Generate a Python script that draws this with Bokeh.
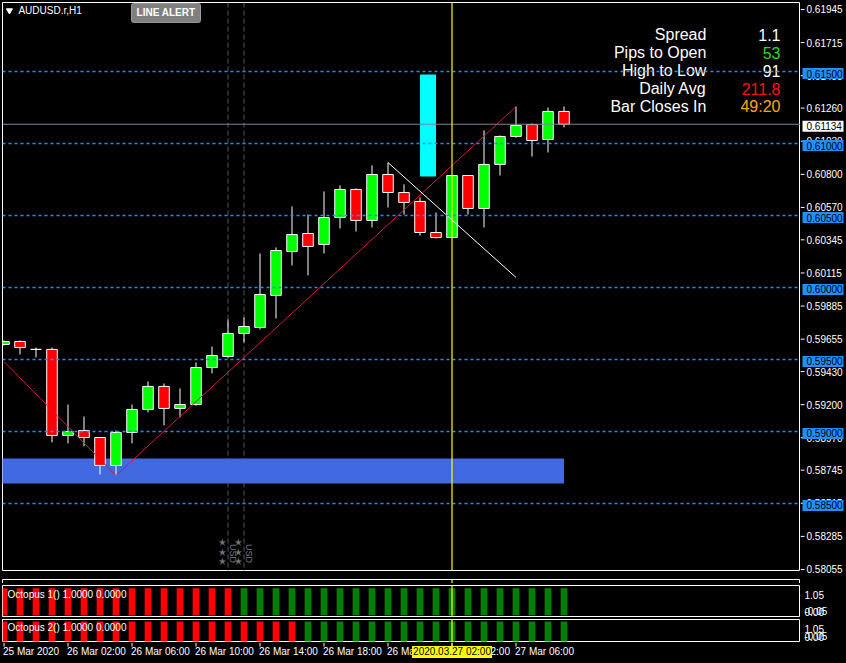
import math
from bokeh.plotting import figure
from bokeh.layouts import column, row
from bokeh.models import Range1d, Span, ColumnDataSource, GlobalInlineStyleSheet
from bokeh.core.properties import value
from bokeh.embed import file_html
from bokeh.resources import INLINE

FONT = "Liberation Sans"

# ---------------- data ----------------
symbol = "AUDUSD.r,H1"
bar_index = list(range(36))
opens = [0.59604, 0.59625, 0.59570, 0.59570, 0.58972, 0.59007, 0.58958, 0.58764, 0.58993,
         0.59153, 0.59313, 0.59160, 0.59187, 0.59444, 0.59521, 0.59681, 0.59722, 0.59945,
         0.60250, 0.60375, 0.60299, 0.60486, 0.60681, 0.60466, 0.60785, 0.60660, 0.60598,
         0.60382, 0.60347, 0.60778, 0.60549, 0.60855, 0.61049, 0.61132, 0.61028, 0.61223]
highs = [0.59632, 0.59632, 0.59583, 0.59583, 0.59187, 0.59104, 0.58960, 0.59007, 0.59187,
         0.59347, 0.59333, 0.59299, 0.59479, 0.59590, 0.59778, 0.59792, 0.60236, 0.60278,
         0.60563, 0.60507, 0.60667, 0.60709, 0.60688, 0.60848, 0.60868, 0.60716, 0.60625,
         0.60521, 0.60778, 0.60780, 0.61091, 0.61056, 0.61257, 0.61139, 0.61250, 0.61257]
lows = [0.59597, 0.59535, 0.59514, 0.58924, 0.58917, 0.58896, 0.58701, 0.58694, 0.58917,
        0.59132, 0.59042, 0.59097, 0.59180, 0.59403, 0.59514, 0.59618, 0.59708, 0.59785,
        0.60153, 0.60084, 0.60236, 0.60410, 0.60389, 0.60417, 0.60556, 0.60507, 0.60361,
        0.60341, 0.60347, 0.60507, 0.60417, 0.60778, 0.61040, 0.60910, 0.60938, 0.61112]
closes = [0.59625, 0.59583, 0.59570, 0.58972, 0.59000, 0.58958, 0.58764, 0.58993, 0.59153,
          0.59313, 0.59160, 0.59187, 0.59444, 0.59528, 0.59681, 0.59729, 0.59951, 0.60257,
          0.60368, 0.60285, 0.60486, 0.60681, 0.60466, 0.60785, 0.60660, 0.60591, 0.60382,
          0.60347, 0.60778, 0.60549, 0.60855, 0.61049, 0.61125, 0.61021, 0.61223, 0.61134]

price_ticks = [0.61945, 0.61715, 0.61485, 0.61260, 0.61030, 0.60800, 0.60570, 0.60345, 0.60115,
               0.59885, 0.59655, 0.59430, 0.59200, 0.58970, 0.58745, 0.58515, 0.58285, 0.58055]
level_prices = [0.615, 0.610, 0.605, 0.600, 0.595, 0.590, 0.585]
current_price = 0.61134

x_tick_bars = [0, 4, 8, 12, 16, 20, 24, 28, 32]
x_tick_labels = ["25 Mar 2020", "26 Mar 02:00", "26 Mar 06:00", "26 Mar 10:00", "26 Mar 14:00",
                 "26 Mar 18:00", "26 Mar 22:00", "27 Mar 02:00", "27 Mar 06:00"]

crosshair_bar = 28
crosshair_label = "2020.03.27 02:00"

zone_left, zone_right, zone_top, zone_bottom = -1, 35, 0.58812, 0.58639
box_left, box_right, box_top, box_bottom = 26, 27, 0.61480, 0.60771

trend_up_x = [0, 7, 32]
trend_up_y = [0.59486, 0.58694, 0.61257]
trend_down_x = [24, 32]
trend_down_y = [0.60868, 0.60070]

event_bars = [14, 15]
event_currency = ["USD", "USD"]
event_star_prices = [0.58229, 0.58159, 0.58097]
event_text_price = 0.58152

info_labels = ["Spread", "Pips to Open", "High to Low", "Daily Avg", "Bar Closes In"]
info_values = ["1.1", "53", "91", "211.8", "49:20"]
info_colors = ["white", "#22dd22", "white", "#ff1010", "#ffa500"]

oct1_dir = [-1, -1, -1, -1, -1, -1, -1, -1, -1, -1, -1, -1, -1, -1, -1, 1, 1, 1,
            1, 1, 1, 1, 1, 1, 1, 1, 1, 1, 1, 1, 1, 1, 1, 1, 1, 1]
oct2_dir = [-1, -1, -1, -1, -1, -1, -1, -1, -1, -1, -1, -1, -1, -1, -1, -1, -1, -1,
            -1, 1, 1, 1, 1, 1, 1, 1, 1, 1, 1, 1, 1, 1, 1, 1, 1, 1]
oct1_value = [1.0] * 36
oct2_value = [1.0] * 36
oct1_text = "Octopus 1() 1.0000 0.0000"
oct2_text = "Octopus 2() 1.0000 0.0000"
oct_scale_labels = ["0.00", "-0.05", "1.05"]

# ---------------- helpers ----------------
x_range = Range1d(-0.094, 49.78)
FRAME_W = 798
STRIP_W = 46


def fig(frame_w, frame_h, xr, yr, left=0, top=0, bottom=0, outline="white"):
    f = figure(frame_width=frame_w, frame_height=frame_h, x_range=xr, y_range=yr,
               output_backend="svg", toolbar_location=None,
               x_axis_location=None, y_axis_location=None,
               background_fill_color="black", border_fill_color="black",
               outline_line_color=outline, outline_line_width=1,
               min_border_left=left, min_border_right=0, min_border_top=top,
               min_border_bottom=bottom)
    f.grid.visible = False
    return f


def crosshair(f):
    f.add_layout(Span(location=crosshair_bar, dimension="height", line_color="#ffff00", line_width=1.2))


def txt(f, x, y, text, color="white", size="10px", align="left", **kw):
    f.text(x=x, y=y, text=text, text_color=color, text_font=value(FONT), text_font_size=size,
           text_align=align, text_baseline="middle", **kw)


# ---------------- main price panel ----------------
P_LO, P_HI, MAIN_H = 0.580272, 0.619797, 569
per_px = (P_HI - P_LO) / MAIN_H
main = fig(FRAME_W, MAIN_H, x_range, Range1d(P_LO, P_HI), left=2, top=2)

for b in event_bars:
    main.add_layout(Span(location=b, dimension="height", line_color="#555555",
                         line_dash="5 3", line_width=1, level="underlay"))

main.quad(left=[zone_left], right=[zone_right], top=[zone_top], bottom=[zone_bottom],
          fill_color="#4169e1", line_color=None)
main.quad(left=[box_left], right=[box_right], top=[box_top], bottom=[box_bottom],
          fill_color="#00ffff", line_color=None)

src = ColumnDataSource(dict(
    x=bar_index, h=highs, l=lows,
    top=[max(o, c) for o, c in zip(opens, closes)],
    bottom=[min(o, c) for o, c in zip(opens, closes)],
    color=["#00ff00" if c >= o else "#ff0000" for o, c in zip(opens, closes)],
))
main.segment(x0="x", y0="h", x1="x", y1="l", source=src, line_color="white", line_width=1)
main.vbar(x="x", width=0.66, top="top", bottom="bottom", source=src,
          fill_color="color", line_color="white", line_width=1)

main.line(trend_up_x, trend_up_y, line_color="#dc143c", line_width=1)
main.line(trend_down_x, trend_down_y, line_color="white", line_width=1)

for lv in level_prices:
    main.add_layout(Span(location=lv, dimension="width", line_color="#1e90ff",
                         line_dash="3 3", line_width=1.5))
main.add_layout(Span(location=current_price, dimension="width", line_color="#778899", line_width=1))
crosshair(main)

for b, cur in zip(event_bars, event_currency):
    main.scatter(x=[b - 0.35] * 3, y=event_star_prices, marker="star", size=8,
                 fill_color="#707a86", line_color="#2a2a2a", line_width=0.5)
    txt(main, [b + 0.3], [event_text_price], [cur], color="#7a7a7a", size="9px",
        align="center", angle=-math.pi / 2)

main.scatter(x=[0.34], y=[0.61924], marker="inverted_triangle", size=6,
             fill_color="white", line_color="white")
txt(main, [0.9], [0.61924], [symbol])
main.rect(x=[10.125], y=[0.61907], width=69, height=19, width_units="screen",
          height_units="screen", fill_color="#7f7f7f", line_color="#9a9a9a",
          border_radius=2)
txt(main, [10.125], [0.61907], ["LINE ALERT"], align="center", text_font_style="bold")

info_y = [0.61754, 0.61629, 0.61504, 0.61379, 0.61254]
txt(main, [43.9] * 5, info_y, info_labels, size="16px", align="right")
txt(main, [48.53] * 5, info_y, info_values, color=info_colors, size="16px", align="right")

# ---------------- price axis strip ----------------
strip = fig(STRIP_W, MAIN_H + 6, Range1d(0, STRIP_W),
            Range1d(P_LO - 4 * per_px, P_HI + 2 * per_px), outline=None)
strip.segment(x0=[0] * len(price_ticks), y0=price_ticks, x1=[4] * len(price_ticks),
              y1=price_ticks, line_color="white", line_width=1)
txt(strip, [6] * len(price_ticks), price_ticks, [f"{t:.5f}" for t in price_ticks])
strip.rect(x=[22.5] * len(level_prices), y=level_prices, width=41, height=11,
           height_units="screen", fill_color="#1e90ff", line_color=None)
txt(strip, [6] * len(level_prices), level_prices, [f"{lv:.5f}" for lv in level_prices],
    color="black")
strip.rect(x=[22.5], y=[current_price], width=41, height=11, height_units="screen",
           fill_color="white", line_color=None)
txt(strip, [6], [current_price], [f"{current_price:.5f}"], color="black")

# ---------------- empty panel ----------------
empty = fig(FRAME_W, 8, x_range, Range1d(0, 1), left=2, top=0)
crosshair(empty)

# ---------------- Octopus panels ----------------


def octo_panel(frame_h, yr, dirs, vals, label, label_y, scale_y):
    f = fig(FRAME_W, frame_h, x_range, yr, left=2, top=2)
    f.vbar(x=bar_index, width=0.42, top=vals, bottom=0,
           fill_color=["#008000" if d > 0 else "#ff0000" for d in dirs], line_color=None)
    txt(f, [0.22], [label_y], [label])
    crosshair(f)
    s = fig(STRIP_W, frame_h + 2, Range1d(0, STRIP_W), Range1d(frame_h + 2, 0), outline=None)
    txt(s, [4] * 3, scale_y, oct_scale_labels)
    s.segment(x0=[0], y0=[frame_h], x1=[3], y1=[frame_h], line_color="white")
    return row(f, s, spacing=0)


o1 = octo_panel(32, Range1d(-0.08, 1.1), oct1_dir, oct1_value, oct1_text, 0.768, [26.5, 25.3, 9.7])
o2 = octo_panel(23, Range1d(-0.05, 1.1), oct2_dir, oct2_value, oct2_text, 0.70, [17.5, 16.3, 9.0])

# ---------------- time axis strip ----------------
xs = fig(FRAME_W, 20, x_range, Range1d(20, 0), left=2, outline=None)
xs.segment(x0=x_tick_bars, y0=[0] * len(x_tick_bars), x1=x_tick_bars, y1=[4] * len(x_tick_bars),
           line_color="white", line_width=1)
txt(xs, x_tick_bars, [9.0] * len(x_tick_bars), x_tick_labels, x_offset=-1)
xs.segment(x0=[crosshair_bar], y0=[0], x1=[crosshair_bar], y1=[4], line_color="#ffff00")
xs.rect(x=[crosshair_bar], y=[9.5], width=80, height=12, width_units="screen",
        height_units="screen", fill_color="#ffff00", line_color=None)
txt(xs, [crosshair_bar], [9.0], [crosshair_label], color="black", align="center")

layout = column(row(main, strip, spacing=0), empty, o1, o2, xs, spacing=0,
                stylesheets=[GlobalInlineStyleSheet(css="body { background-color: #000000; }")])

open("out.html", "w").write(file_html(layout, INLINE))
